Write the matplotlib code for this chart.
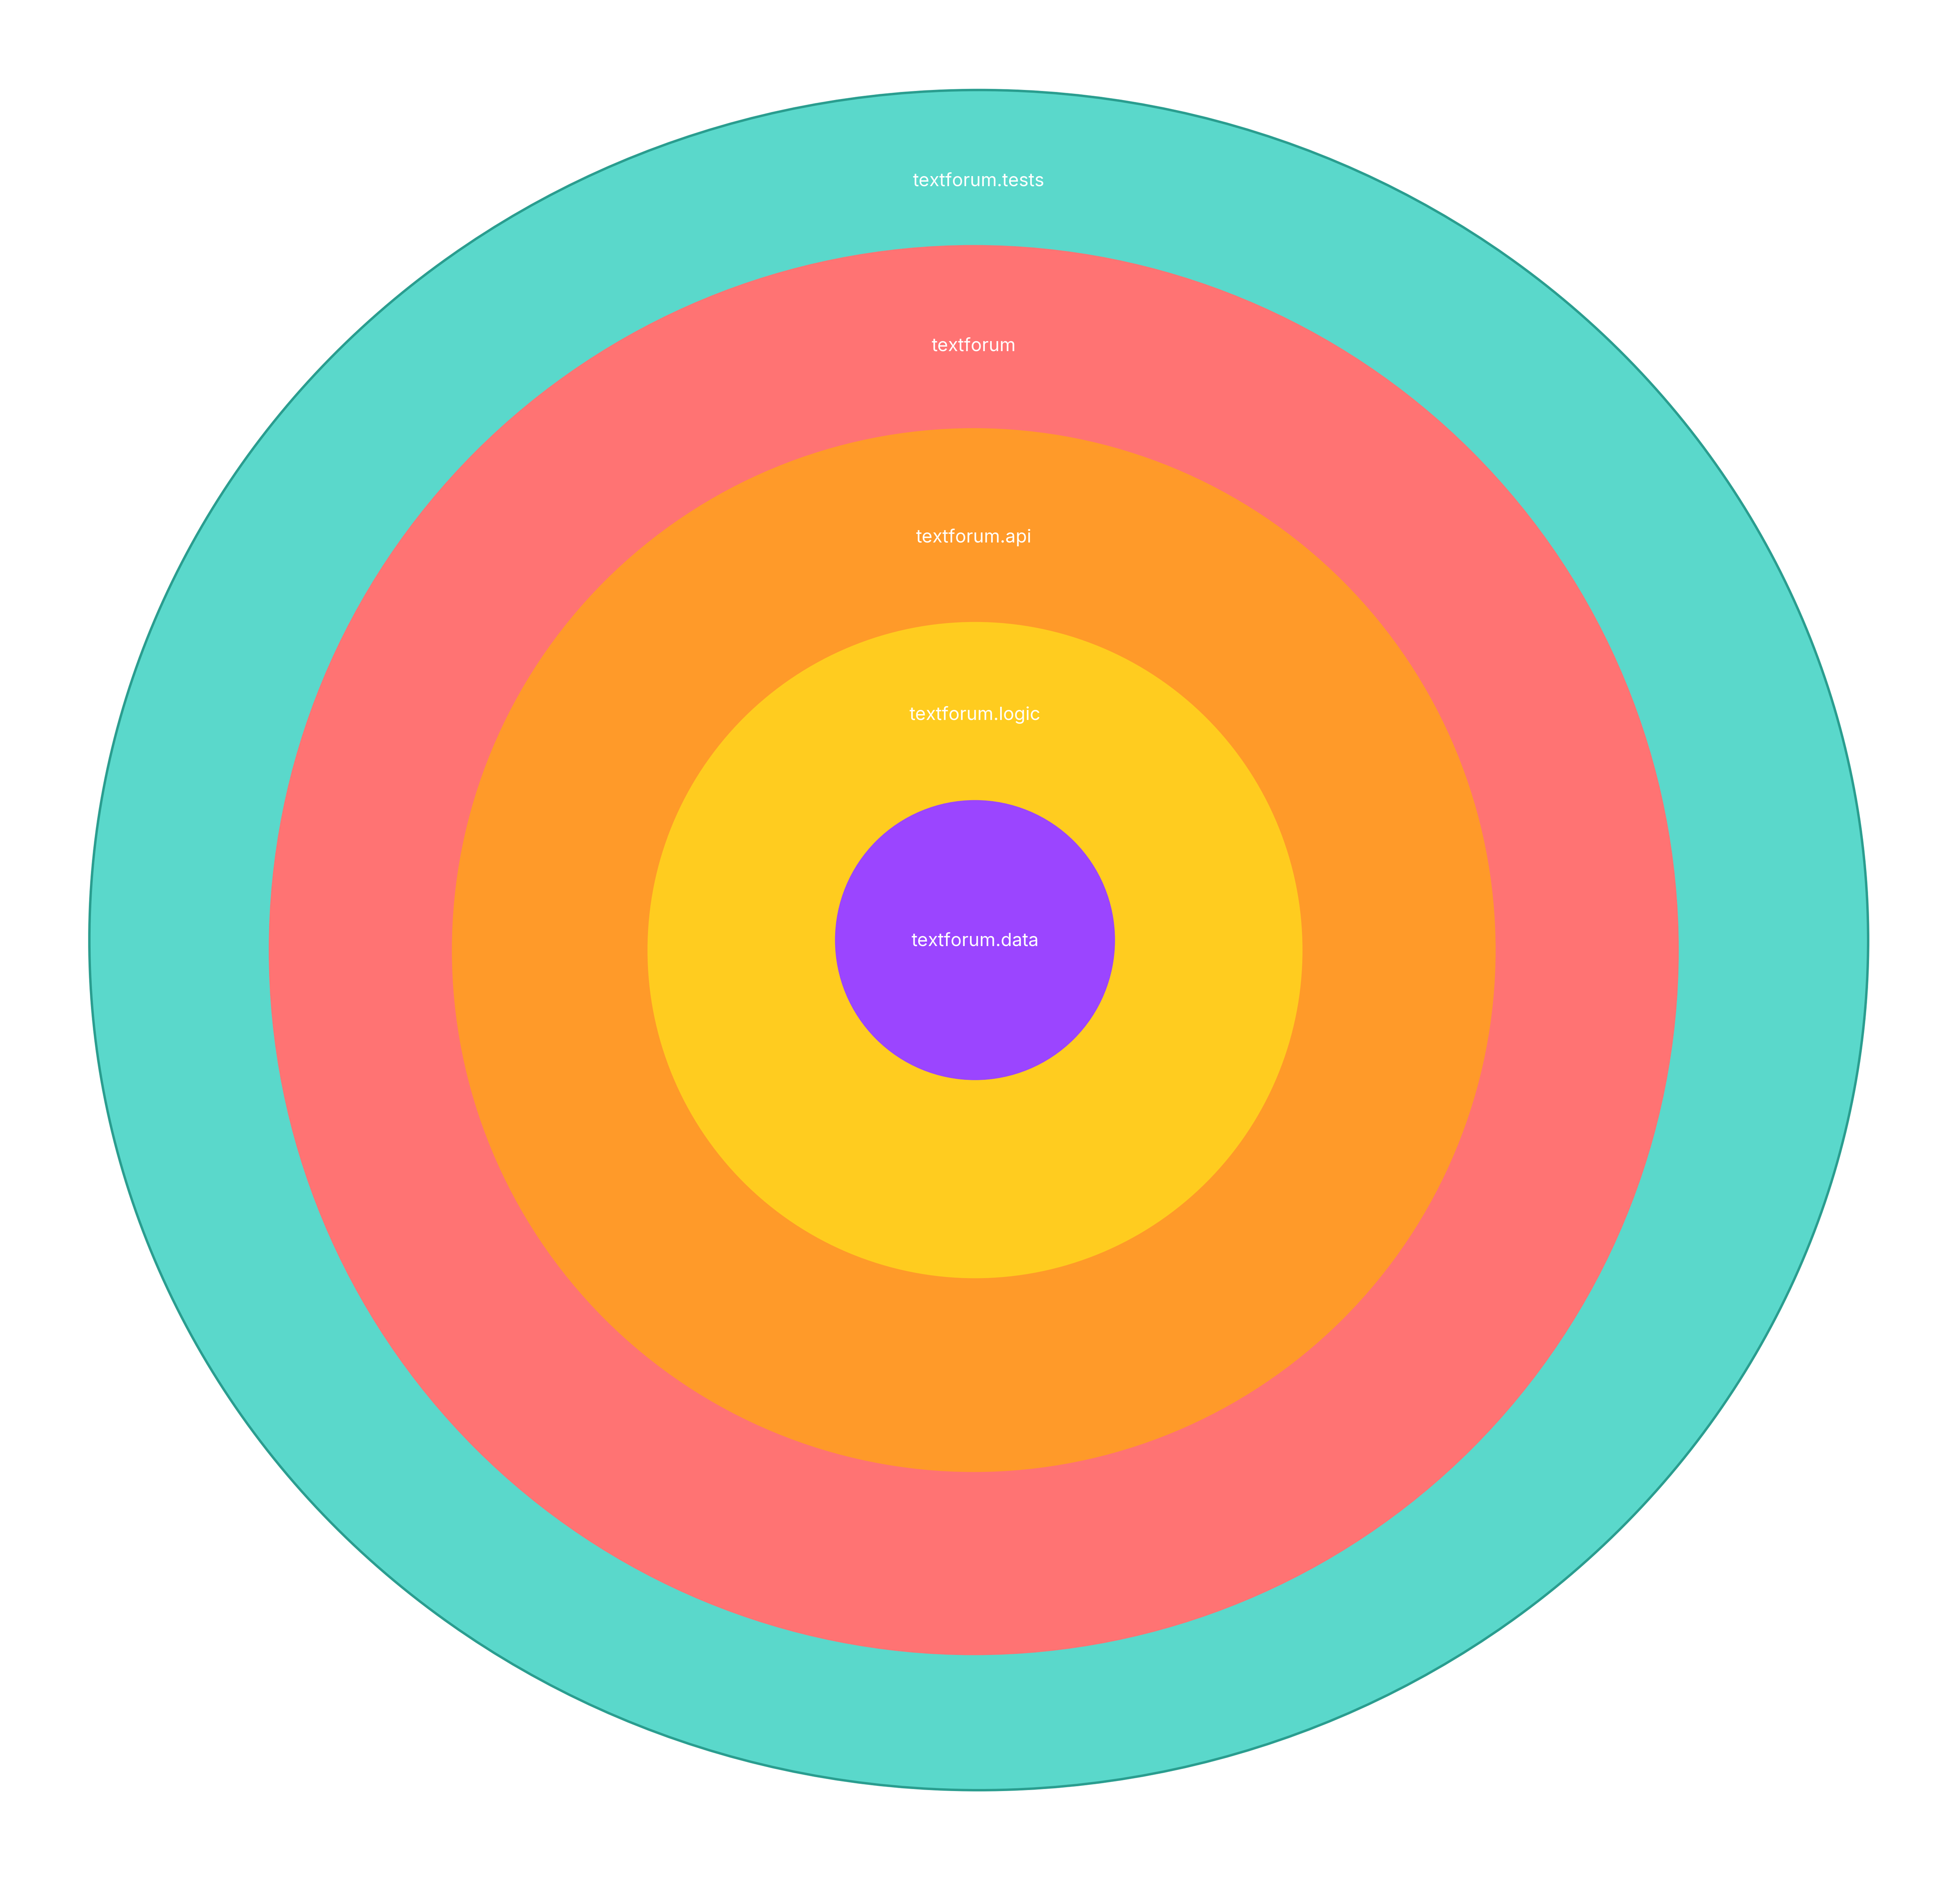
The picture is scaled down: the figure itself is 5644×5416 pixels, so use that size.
import matplotlib.pyplot as plt
from matplotlib.patches import Ellipse

# layers, outer to inner (coords in a 1568 x 1505 reference frame)
names = ["textforum.tests", "textforum", "textforum.api", "textforum.logic", "textforum.data"]
colors = ["#5ad8cb", "#ff7373", "#ff9a29", "#ffcc1f", "#9b45ff"]
centers = [(783, 752), (779, 760), (779, 760), (780, 760), (780, 752)]
widths = [1423, 1128, 835, 524, 224]
heights = [1360, 1128, 835, 525, 224]
label_y = [145, 277, 430, 572, 753]

S = 5644 / 1568
fig = plt.figure(figsize=(56.44, 54.16), dpi=100)
ax = fig.add_axes([0, 0, 1, 1])
ax.set_xlim(0, 1568)
ax.set_ylim(5416 / S, 0)
ax.axis("off")

for i, n in enumerate(names):
    ec = "#2a9d8f" if i == 0 else "none"
    ax.add_patch(Ellipse(centers[i], widths[i], heights[i], facecolor=colors[i],
                         edgecolor=ec, linewidth=5 if i == 0 else 0, zorder=i))
    ax.text(centers[i][0], label_y[i], n, color="white", fontsize=38,
            family=["Inter", "DejaVu Sans"], ha="center", va="center", zorder=10)

fig.savefig("out.png", dpi=100, facecolor="white")
